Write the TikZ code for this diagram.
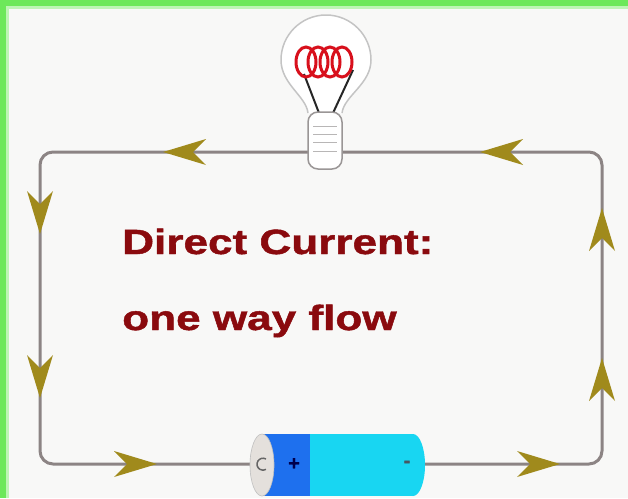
\documentclass[tikz,border=0pt]{standalone}
\usepackage{fontspec}
\setmainfont{Liberation Sans}[BoldFeatures={FakeBold=1.2}]
\definecolor{framegreen}{HTML}{6CE85A}
\definecolor{paper}{HTML}{F8F8F7}
\definecolor{wiregray}{HTML}{8C8484}
\definecolor{arrowgold}{HTML}{A08A1C}
\definecolor{labelred}{HTML}{8A0A0E}
\definecolor{filament}{HTML}{D8101C}
\definecolor{glassgray}{HTML}{C4C4C4}
\definecolor{basegray}{HTML}{9A9696}
\definecolor{cellblue}{HTML}{1E70EE}
\definecolor{cellcyan}{HTML}{18D6F2}
\definecolor{capgray}{HTML}{E4E0DC}
\begin{document}
\begin{tikzpicture}[x=1pt,y=-1pt,
  wire/.style={draw=wiregray, line width=3pt, rounded corners=13pt},
  label/.style={text=labelred, font=\fontsize{35}{40}\selectfont\bfseries,
    anchor=base west, inner sep=0pt, xscale=1.26},
  flow/.pic={\fill[arrowgold] (0,0) -- (-43,-13) -- (-30,0) -- (-43,13) -- cycle;},
]
% page and green frame
\fill[paper] (0,0) rectangle (628,498);
\fill[framegreen!45] (0,0) rectangle (628,9);
\fill[framegreen!45] (0,0) rectangle (9,498);
\fill[framegreen] (0,0) rectangle (628,6);
\fill[framegreen] (0,0) rectangle (6,498);
\useasboundingbox (0,0) rectangle (628,498);

% circuit loop
\coordinate (top) at (325,152);
\coordinate (nw) at (40,152);
\coordinate (ne) at (602,152);
\coordinate (se) at (602,464);
\coordinate (sw) at (40,464);
\draw[wire] (top) -- (ne) -- (se) -- (sw) -- (nw) -- cycle;

% current direction
\pic[rotate=180] at (163,152) {flow};
\pic[rotate=180] at (480,152) {flow};
\pic[rotate=-90] at (40,234) {flow};
\pic[rotate=-90] at (40,398) {flow};
\pic[rotate=90] at (602,208) {flow};
\pic[rotate=90] at (602,358) {flow};
\pic at (157,464) {flow};
\pic at (560,464) {flow};

% light bulb: glass
\draw[glassgray, line width=1.5pt, fill=white]
  (308,113) .. controls (306,96) and (281,84) .. (281,60)
  arc[start angle=180, end angle=360, radius=45]
  .. controls (371,84) and (344,96) .. (342,113);
% filament coil and leads
\draw[black!85, line width=2pt] (304,74) -- (319,113);
\draw[black!85, line width=2pt] (353,70) -- (333,113);
\foreach \cx in {306,318,330,342}
  \draw[filament, line width=3pt] (\cx,62) ellipse (10 and 15);
% screw base
\draw[basegray, line width=1.5pt, fill=white, rounded corners=10pt]
  (308,112) rectangle (342,169);
\foreach \ly in {126,134,142,151}
  \draw[basegray!70, line width=1pt] (313,\ly) -- (337,\ly);

% battery cell
\fill[cellcyan] (300,434) rectangle (413,496);
\fill[cellcyan] (413,465) ellipse (12 and 31);
\fill[cellblue] (262,434) rectangle (310,496);
\fill[capgray] (262,465) ellipse (12 and 31);
\draw[gray!50, line width=0.6pt] (262,465) ellipse (12 and 31);
\draw[black!60, line width=1.5pt] (266,459) arc[start angle=-60, end angle=-300, radius=6];
\node[text=blue!30!black, font=\fontsize{20}{20}\selectfont\bfseries, inner sep=0pt]
  (plus) at (294,464) {+};
\node[text=cyan!30!black, font=\fontsize{20}{20}\selectfont\bfseries, inner sep=0pt]
  (minus) at (407,464) {-};

% caption
\node[label] (title) at (122,254) {Direct Current:};
\node[label] (sub) at (122,330) {one way flow};
\end{tikzpicture}
\end{document}
